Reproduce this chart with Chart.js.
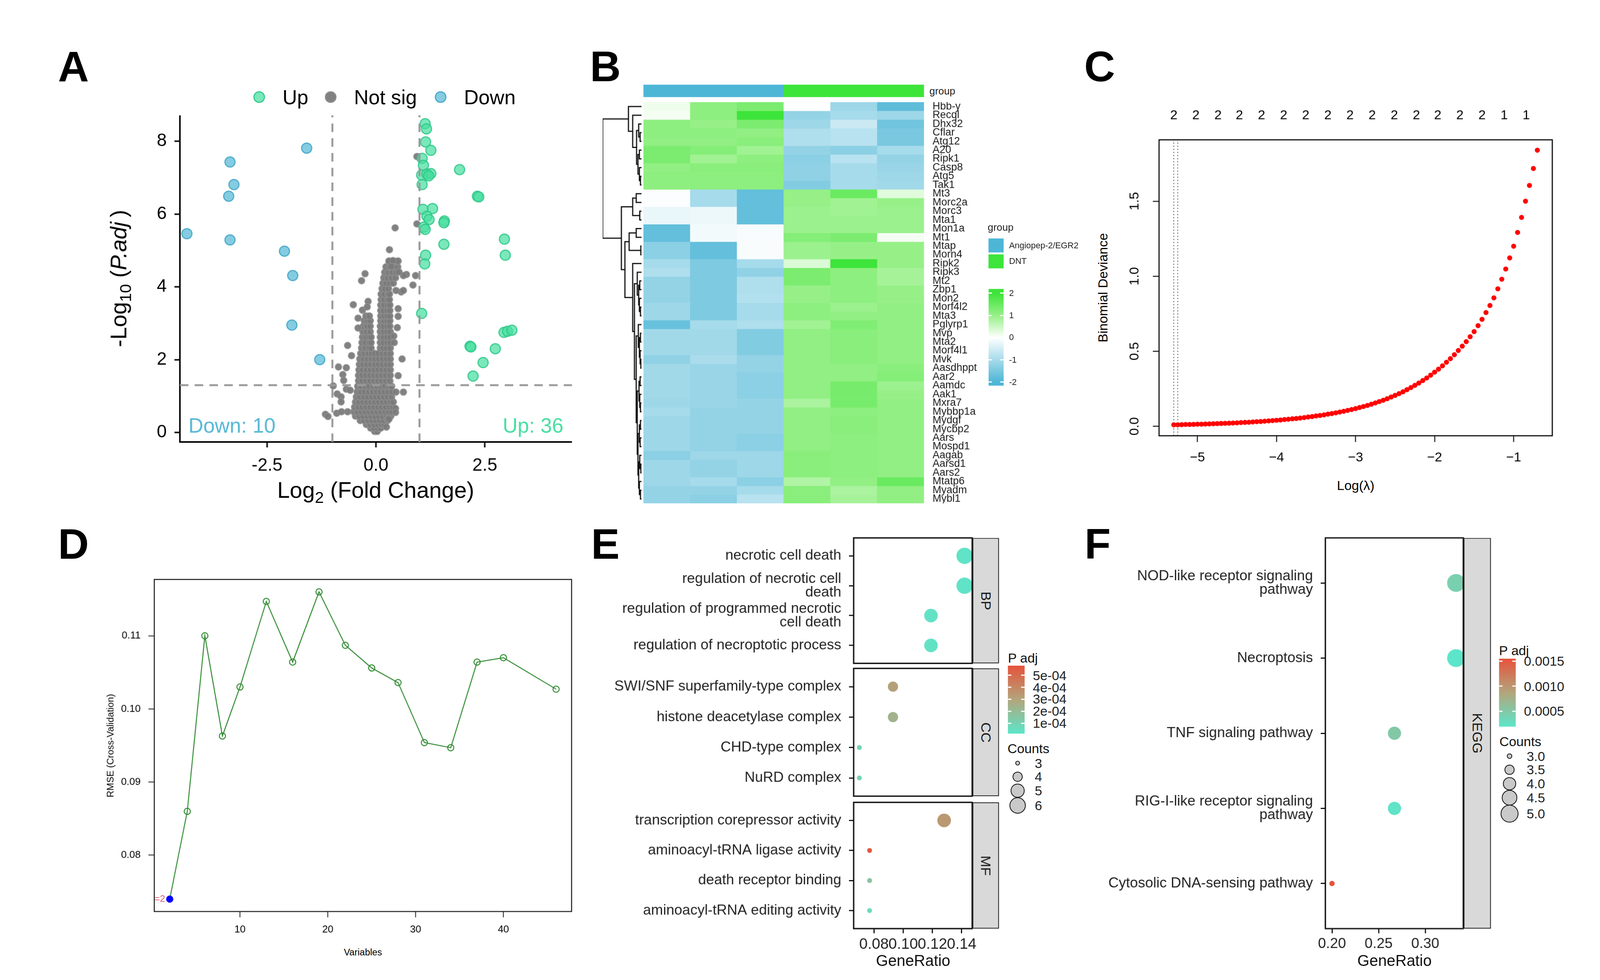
<!DOCTYPE html>
<html>
<head>
<meta charset="utf-8">
<script src="https://cdn.jsdelivr.net/npm/chart.js@4.4.1/dist/chart.umd.min.js"></script>
<style>
html, body { margin: 0; padding: 0; background: #fff; overflow: hidden; }
#fig { position: relative; width: 4099px; height: 2510px; background: #fff; overflow: hidden;
       transform: scale(0.9947); transform-origin: 0 0;
       font-family: "Liberation Sans", Arial, sans-serif; color: #000; }
.box { position: absolute; }
.t { position: absolute; white-space: nowrap; line-height: 1; }
</style>
</head>
<body>
<div id="fig"></div>
<script>
// ---------- data ----------
// A: volcano
const upPts = [[1.13,8.48],[1.16,8.34],[1.14,7.98],[1.26,7.75],[1.06,7.53],[1.09,7.34],[1.05,7.07],[1.17,7.10],[1.26,7.11],[1.21,7.05],[1.06,6.81],[1.92,7.22],[2.33,6.49],[2.36,6.47],[1.08,6.13],[1.30,6.15],[1.17,5.94],[1.22,5.85],[1.10,5.64],[1.13,5.58],[1.57,5.81],[1.56,5.76],[1.56,5.17],[1.14,4.87],[1.12,4.63],[2.95,5.31],[2.97,4.87],[1.05,3.27],[2.94,2.75],[3.02,2.78],[3.12,2.81],[2.16,2.37],[2.18,2.35],[2.74,2.30],[2.46,1.92],[2.23,1.55]];
const downPts = [[-4.34,5.46],[-3.35,7.43],[-3.26,6.81],[-3.38,6.49],[-3.35,5.29],[-1.59,7.81],[-2.10,4.98],[-1.91,4.31],[-1.93,2.95],[-1.29,2.00]];
// dense "not sig" body, read row by row: [y, x positions]
const nsRows = [
  [0.03, [-0.03, 0.03]],
  [0.12, [-0.12, -0.04, 0.04, 0.11]],
  [0.22, [-0.22, -0.13, -0.04, 0.05, 0.13, 0.19]],
  [0.33, [-0.36, -0.27, -0.18, -0.09, 0.0, 0.09, 0.18, 0.27]],
  [0.45, [-0.47, -0.38, -0.29, -0.2, -0.11, -0.02, 0.07, 0.16, 0.25, 0.34]],
  [0.57, [-0.51, -0.42, -0.33, -0.24, -0.15, -0.06, 0.03, 0.12, 0.21, 0.3, 0.37]],
  [0.70, [-0.49, -0.4, -0.31, -0.22, -0.13, -0.04, 0.05, 0.14, 0.23, 0.32, 0.39]],
  [0.84, [-0.47, -0.38, -0.29, -0.2, -0.11, -0.02, 0.07, 0.16, 0.25, 0.34, 0.4]],
  [0.98, [-0.45, -0.36, -0.27, -0.18, -0.09, 0.0, 0.09, 0.18, 0.27, 0.36]],
  [1.12, [-0.43, -0.34, -0.25, -0.16, -0.07, 0.02, 0.11, 0.2, 0.29, 0.37]],
  [1.27, [-0.42, -0.33, -0.24, -0.15, -0.06, 0.03, 0.12, 0.21, 0.3, 0.36]],
  [1.42, [-0.4, -0.31, -0.22, -0.13, -0.04, 0.05, 0.14, 0.23, 0.32]],
  [1.57, [-0.4, -0.31, -0.22, -0.13, -0.04, 0.05, 0.14, 0.23, 0.33]],
  [1.72, [-0.39, -0.3, -0.21, -0.12, -0.03, 0.06, 0.15, 0.24, 0.33]],
  [1.87, [-0.38, -0.29, -0.2, -0.11, -0.02, 0.07, 0.16, 0.25, 0.33]],
  [2.02, [-0.37, -0.28, -0.19, -0.1, -0.02, 0.07, 0.16, 0.25, 0.33]],
  [2.17, [-0.35, -0.26, -0.17, -0.09, -0.02, 0.06, 0.15, 0.24, 0.33]],
  [2.32, [-0.33, -0.24, -0.16, -0.11, 0.10, 0.17, 0.25, 0.33]],
  [2.47, [-0.32, -0.23, -0.15, -0.11, 0.10, 0.18, 0.26, 0.33]],
  [2.62, [-0.31, -0.22, -0.15, -0.11, 0.10, 0.18, 0.26, 0.33]],
  [2.77, [-0.3, -0.21, -0.13, 0.10, 0.18, 0.26, 0.33]],
  [2.92, [-0.29, -0.2, -0.13, 0.10, 0.18, 0.26, 0.32]],
  [3.07, [-0.27, -0.19, -0.13, 0.11, 0.19, 0.26, 0.32]],
  [3.20, [-0.23, -0.15, 0.11, 0.19, 0.26, 0.32]],
  [3.35, [0.11, 0.18, 0.26, 0.32]],
  [3.50, [0.11, 0.19, 0.27, 0.32]],
  [3.65, [0.12, 0.19, 0.27, 0.31]],
  [3.80, [0.12, 0.2, 0.28, 0.31]],
  [3.95, [0.14, 0.21, 0.29]],
  [4.10, [0.16, 0.24, 0.32, 0.4]],
  [4.25, [0.18, 0.27, 0.36, 0.45]],
  [4.40, [0.2, 0.29, 0.38, 0.47]],
  [4.55, [0.23, 0.32, 0.41, 0.5]],
  [4.70, [0.3, 0.38, 0.46]]];
const nsOutliers = [[0.94,7.58],[0.94,5.73],[0.44,5.62],[0.31,5.02],[-0.25,4.36],[-0.33,4.17],[-0.52,3.51],[-0.31,3.36],[-0.18,3.6],[-0.2,3.45],
  [-0.41,3.14],[-0.41,2.87],[-0.65,2.39],[-0.56,2.11],[-0.86,1.8],[-0.68,1.78],[-0.76,1.59],[-0.74,1.43],[-0.98,1.28],[-0.89,1.06],
  [-0.8,0.98],[-0.8,0.84],[-0.68,1.19],[-0.59,1.16],[-1.16,0.5],[-1.1,0.44],[-0.9,0.53],[-0.79,0.57],[-0.65,0.57],[0.6,2.02],
  [0.51,1.56],[0.63,1.11],[0.46,1.11],[0.45,0.66],[0.45,0.55],[0.49,2.88],[0.51,3.19],[0.51,3.4],[0.42,2.47],[0.41,2.65],
  [0.58,3.86],[0.63,3.9],[0.46,3.9],[0.85,4.05],[0.91,4.31],[0.7,4.34],[0.63,4.31],[0.53,4.41],[0.51,4.71],[0.3,4.71],
  [0.39,4.72],[0.35,4.56],[0.27,0.37],[0.24,0.15],[0.3,0.37]];
const nsPts = nsRows.flatMap(([y, xs]) => xs.map(x => [x, y])).concat(nsOutliers);
const fcCut = 1, padjCut = 0.05;
const volXRange = [-4.5, 4.5], volYRange = [-0.26, 8.71];
const volXTicks = [-2.5, 0, 2.5], volYTicks = [0, 2, 4, 6, 8];

// B: heatmap
const genes = ['Hbb-y','Recql','Dhx32','Cflar','Atg12','A20','Ripk1','Casp8','Atg5','Tak1','Mt3','Morc2a','Morc3','Mta1','Mon1a','Mt1','Mtap','Morn4','Ripk2','Ripk3','Mt2','Zbp1','Mon2','Morf4l2','Mta3','Pglyrp1','Mvp','Mta2','Morf4l1','Mvk','Aasdhppt','Aar2','Aamdc','Aak1','Mxra7','Mybbp1a','Mydgf','Mycbp2','Aars','Mospd1','Aagab','Aarsd1','Aars2','Mtatp6','Myadm','Mybl1'];
const sampleGroup = ['Angiopep-2/EGR2','Angiopep-2/EGR2','Angiopep-2/EGR2','DNT','DNT','DNT'];
const heatZ = [
  [0.15,1.1,1.3,0.0,-1.1,-1.8],[0.1,1.1,2.0,-1.2,-1.0,-1.1],[1.1,1.0,1.3,-1.1,-0.6,-1.6],[1.1,1.1,1.05,-0.9,-0.8,-1.5],
  [1.05,1.05,1.15,-0.9,-0.8,-1.5],[1.3,1.2,0.9,-1.2,-1.3,-1.0],[1.3,0.9,1.1,-1.3,-0.8,-1.2],[1.05,1.15,1.15,-1.25,-1.0,-1.15],
  [1.1,1.1,1.1,-1.25,-1.0,-1.1],[1.1,1.1,1.1,-1.4,-1.0,-1.05],[-0.05,-1.0,-1.75,1.0,1.5,0.3],[-0.05,-1.0,-1.75,1.0,0.9,1.0],
  [-0.25,-0.2,-1.75,0.95,0.9,0.95],[-0.25,-0.2,-1.75,0.95,0.95,0.95],[-1.75,-0.15,-0.1,0.95,0.95,0.95],[-1.75,-0.15,-0.08,1.2,1.3,0.1],
  [-1.3,-1.75,-0.08,0.95,1.0,1.0],[-1.3,-1.75,-0.08,0.95,1.0,1.0],[-1.0,-1.45,-1.0,0.35,2.0,1.0],[-0.9,-1.45,-1.25,1.3,1.1,0.85],
  [-1.2,-1.45,-0.9,1.3,1.1,0.85],[-1.2,-1.45,-0.9,1.0,1.1,1.0],[-1.2,-1.45,-0.85,1.0,1.1,1.0],[-1.1,-1.45,-1.0,1.1,0.95,1.05],
  [-1.1,-1.45,-1.0,1.1,1.05,1.05],[-1.7,-1.0,-0.9,0.9,1.25,1.05],[-1.05,-1.05,-1.4,1.05,1.15,1.05],[-1.05,-1.05,-1.4,1.05,1.15,1.05],
  [-1.05,-1.05,-1.4,1.05,1.15,1.05],[-1.25,-0.95,-1.2,1.05,1.15,1.05],[-1.05,-1.15,-1.2,1.05,1.05,1.15],[-1.05,-1.15,-1.3,1.05,1.05,1.2],
  [-1.05,-1.15,-1.3,1.05,1.35,0.95],[-1.05,-1.15,-1.3,1.05,1.35,1.0],[-1.1,-1.15,-1.2,0.8,1.35,1.05],[-1.0,-1.2,-1.2,1.05,1.1,1.05],
  [-1.1,-1.2,-1.2,1.05,1.15,1.05],[-1.1,-1.2,-1.2,1.05,1.15,1.05],[-1.1,-1.2,-1.3,1.05,1.1,1.05],[-1.1,-1.2,-1.3,1.05,1.1,1.05],
  [-1.3,-1.1,-1.1,1.15,1.1,1.05],[-1.1,-1.2,-1.1,1.15,1.1,1.05],[-1.1,-1.2,-1.1,1.15,1.1,1.05],[-1.1,-1.0,-1.3,0.75,1.05,1.5],
  [-1.2,-1.2,-1.0,1.15,0.8,1.05],[-1.2,-1.3,-0.8,1.15,0.85,1.05]];
// row dendrogram: [height, left, right], leaves are row numbers
const rowTree = [110,
  [37, 1, [25, 2, [14, [8, 3, [4, 4, 5]], [10, [6, 6, 7], [6, 8, [3, 9, 10]]]]]],
  [57, [25, [15, 11, 12], [5, 13, 14]],
       [47, [35, [15, 15, 16], [2, 17, 18]],
            [25, 19, [20, [12, 20, [8, [5, 21, 22], [6, 23, [3, 24, 25]]]],
                          [15, [9, 26, [6, [3, 27, 28], [4, 29, [2, 30, 31]]]],
                               [12, [7, [4, 32, 33], [5, 34, [3, 35, 36]]],
                                    [10, [6, [3, 37, 38], [4, 39, 40]], [8, [5, 41, [2, 42, 43]], [6, 44, [3, 45, 46]]]]]]]]]]];
const heatLegendTicks = [2, 1, 0, -1, -2];

// C: lasso cv curve
const logLambda = [-5.30,-5.25,-5.20,-5.15,-5.10,-5.05,-5.00,-4.95,-4.90,-4.85,-4.80,-4.75,-4.70,-4.65,-4.60,-4.55,-4.50,-4.45,-4.40,-4.35,-4.30,-4.25,-4.20,-4.15,-4.10,-4.05,-4.00,-3.95,-3.90,-3.85,-3.80,-3.75,-3.70,-3.65,-3.60,-3.55,-3.50,-3.45,-3.40,-3.35,-3.30,-3.25,-3.20,-3.15,-3.10,-3.05,-3.00,-2.95,-2.90,-2.85,-2.80,-2.75,-2.70,-2.65,-2.60,-2.55,-2.50,-2.45,-2.40,-2.35,-2.30,-2.25,-2.20,-2.15,-2.10,-2.05,-2.00,-1.95,-1.90,-1.85,-1.80,-1.75,-1.70,-1.65,-1.60,-1.55,-1.50,-1.45,-1.40,-1.35,-1.30,-1.25,-1.20,-1.15,-1.10,-1.05,-1.00,-0.95,-0.90,-0.85,-0.80,-0.75,-0.70];
const deviance = [0.010,0.010,0.011,0.012,0.012,0.013,0.014,0.014,0.015,0.016,0.017,0.018,0.019,0.020,0.021,0.022,0.023,0.025,0.026,0.027,0.029,0.031,0.032,0.034,0.036,0.038,0.040,0.042,0.045,0.047,0.050,0.052,0.055,0.058,0.062,0.065,0.069,0.072,0.076,0.081,0.085,0.090,0.095,0.100,0.106,0.112,0.118,0.125,0.132,0.139,0.147,0.156,0.165,0.174,0.184,0.195,0.206,0.218,0.230,0.244,0.258,0.273,0.288,0.305,0.322,0.341,0.361,0.381,0.403,0.427,0.451,0.477,0.505,0.534,0.564,0.597,0.631,0.671,0.713,0.758,0.805,0.856,0.916,0.980,1.048,1.122,1.200,1.292,1.392,1.500,1.605,1.718,1.840];
const lambdaLines = [-5.30, -5.25];
const dfPos = [-5.30,-5.02,-4.74,-4.47,-4.19,-3.91,-3.63,-3.35,-3.07,-2.79,-2.51,-2.23,-1.96,-1.68,-1.40,-1.12,-0.84];
const dfCount = [2,2,2,2,2,2,2,2,2,2,2,2,2,2,2,1,1];
const cXRange = [-5.486, -0.511], cYRange = [-0.063, 1.909];
const cXTicks = [-5, -4, -3, -2, -1], cYTicks = [0, 0.5, 1.0, 1.5];

// D: rfe
const rfeVars = [2,4,6,8,10,13,16,19,22,25,28,31,34,37,40,46];
const rfeRmse = [0.0740,0.0860,0.1100,0.0963,0.1030,0.1147,0.1064,0.1160,0.1087,0.1056,0.1036,0.0954,0.0947,0.1064,0.1070,0.1027];
const dXRange = [0.24, 47.76], dYRange = [0.0723, 0.1177];
const dXTicks = [10, 20, 30, 40], dYTicks = [0.08, 0.09, 0.10, 0.11];

// E: GO enrichment
const bpTerms = ['necrotic cell death','regulation of necrotic cell\ndeath','regulation of programmed necrotic\ncell death','regulation of necroptotic process'];
const bpRatio = [0.142, 0.142, 0.119, 0.119];
const bpCount = [6, 6, 5, 5];
const bpPadj = [2.6e-5, 2.6e-5, 3.2e-5, 3.2e-5];
const ccTerms = ['SWI/SNF superfamily-type complex','histone deacetylase complex','CHD-type complex','NuRD complex'];
const ccRatio = [0.093, 0.093, 0.070, 0.070];
const ccCount = [4, 4, 3, 3];
const ccPadj = [3.1e-4, 2.4e-4, 9e-5, 9e-5];
const mfTerms = ['transcription corepressor activity','aminoacyl-tRNA ligase activity','death receptor binding','aminoacyl-tRNA editing activity'];
const mfRatio = [0.128, 0.077, 0.077, 0.077];
const mfCount = [5, 3, 3, 3];
const mfPadj = [3.4e-4, 5.6e-4, 1.6e-4, 6e-5];
const eRatioRange = [0.0661, 0.1472], eRatioTicks = [0.08, 0.10, 0.12, 0.14];
const ePadjRange = [1.3e-5, 5.8e-4], ePadjTicks = [5e-4, 4e-4, 3e-4, 2e-4, 1e-4];
const eCountTicks = [3, 4, 5, 6];

// F: KEGG enrichment
const keggTerms = ['NOD-like receptor signaling\npathway','Necroptosis','TNF signaling pathway','RIG-I-like receptor signaling\npathway','Cytosolic DNA-sensing pathway'];
const keggRatio = [0.333, 0.333, 0.267, 0.267, 0.200];
const keggCount = [5, 5, 4, 4, 3];
const keggPadj = [4.2e-4, 2.0e-4, 5.0e-4, 2.2e-4, 1.55e-3];
const fRatioRange = [0.1929, 0.3408], fRatioTicks = [0.20, 0.25, 0.30];
const fPadjRange = [1.9e-4, 1.55e-3], fPadjTicks = [0.0015, 0.0010, 0.0005];
const fCountTicks = [3.0, 3.5, 4.0, 4.5, 5.0];

// ---------- helpers ----------
const FONT = '"Liberation Sans", Arial, sans-serif';
Chart.defaults.font.family = FONT;
Chart.defaults.color = '#000';
Chart.defaults.animation = false;
Chart.defaults.responsive = true;
Chart.defaults.maintainAspectRatio = false;
Chart.defaults.events = [];
Chart.defaults.layout.autoPadding = false;
Chart.defaults.plugins.legend.display = false;
Chart.defaults.plugins.tooltip.enabled = false;

const fig = document.getElementById('fig');

function panel(left, top, width, height) {
  const d = document.createElement('div');
  d.className = 'box';
  d.style.cssText = `left:${left}px;top:${top}px;width:${width}px;height:${height}px;`;
  const c = document.createElement('canvas');
  d.appendChild(c);
  fig.appendChild(d);
  return c;
}

function text(html, x, y, o = {}) {
  const d = document.createElement('div');
  d.className = 't';
  d.innerHTML = html;
  const ax = o.align === 'left' ? '0' : o.align === 'right' ? '-100%' : '-50%';
  d.style.left = x + 'px';
  d.style.top = y + 'px';
  d.style.fontSize = (o.size || 36) + 'px';
  if (o.bold) d.style.fontWeight = 'bold';
  if (o.color) d.style.color = o.color;
  d.style.transform = `translate(${ax},-50%)` + (o.rot ? ` rotate(${o.rot}deg)` : '');
  fig.appendChild(d);
  return d;
}

function rect(x, y, w, h, css) {
  const d = document.createElement('div');
  d.style.cssText = `position:absolute;left:${x}px;top:${y}px;width:${w}px;height:${h}px;box-sizing:border-box;` + css;
  fig.appendChild(d);
  return d;
}

// fixed axis size so that plot areas land where the reference has them
function fit(size) {
  return s => {
    if (s.isHorizontal()) s.height = size; else s.width = size;
    s.paddingLeft = s.paddingRight = s.paddingTop = s.paddingBottom = 0;
  };
}
const at = vals => s => { s.ticks = vals.map(v => ({ value: v })); };

const frame = w => ({
  id: 'frame',
  afterDatasetsDraw(chart) {
    const { ctx, chartArea: a } = chart;
    ctx.save();
    ctx.strokeStyle = '#111';
    ctx.lineWidth = w;
    ctx.strokeRect(a.left, a.top, a.right - a.left, a.bottom - a.top);
    ctx.restore();
  }
});

function mix(a, b, k) { return a.map((v, i) => Math.round(v + (b[i] - v) * k)); }

const HEAT_STOPS = [[-2, [77, 182, 214]], [0, [255, 255, 255]], [1, [150, 240, 135]], [2, [61, 228, 58]]];
function heatColor(v) {
  v = Math.max(-2, Math.min(2, v));
  for (let i = 1; i < HEAT_STOPS.length; i++) {
    const [v1, c1] = HEAT_STOPS[i], [v0, c0] = HEAT_STOPS[i - 1];
    if (v <= v1) return 'rgb(' + mix(c0, c1, (v - v0) / (v1 - v0)).join(',') + ')';
  }
}

const padjStops = [[92, 230, 202], [178, 165, 124], [230, 83, 59]];
function padjColor(p, range) {
  let t = (p - range[0]) / (range[1] - range[0]);
  t = Math.max(0, Math.min(1, t));
  const seg = t < 0.5 ? 0 : 1;
  const k = t < 0.5 ? t * 2 : (t - 0.5) * 2;
  return 'rgb(' + mix(padjStops[seg], padjStops[seg + 1], k).join(',') + ')';
}
const sizeE = c => 21 * Math.sqrt((c - 2.7) / 3.3);
const sizeF = c => 23 * Math.sqrt((c - 2.8) / 2.2);

const tickGrid = (len, w) => ({ drawOnChartArea: false, drawTicks: true, tickLength: len, tickWidth: w, color: '#111' });

// ---------- panel letters ----------
[['A', 189, 171], ['B', 1558, 171], ['C', 2830, 171], ['D', 189, 1401], ['E', 1558, 1401], ['F', 2825, 1401]]
  .forEach(([l, x, y]) => text(l, x, y, { size: 110, bold: true }));

// ---------- A: volcano ----------
const UP_COL = '#46DFA0', DOWN_COL = '#56B8D5';
const NS_FILL = 'rgba(122,122,122,0.95)', NS_LINE = 'rgba(145,145,145,0.7)';
const hLine = -Math.log10(padjCut);
const dash = pts => ({ data: pts, showLine: true, pointRadius: 0, borderColor: '#9a9a9a', borderWidth: 5, borderDash: [22, 16] });
new Chart(panel(300, 297, 1172, 951), {
  type: 'scatter',
  data: {
    datasets: [
      dash([{ x: -fcCut, y: volYRange[0] }, { x: -fcCut, y: volYRange[1] }]),
      dash([{ x: fcCut, y: volYRange[0] }, { x: fcCut, y: volYRange[1] }]),
      dash([{ x: volXRange[0], y: hLine }, { x: volXRange[1], y: hLine }]),
      { data: upPts.map(([x, y]) => ({ x, y })), pointRadius: 13, backgroundColor: 'rgba(70,223,160,0.72)', borderColor: 'rgba(48,200,138,0.9)', borderWidth: 3 },
      { data: downPts.map(([x, y]) => ({ x, y })), pointRadius: 13, backgroundColor: 'rgba(86,184,213,0.72)', borderColor: 'rgba(66,166,200,0.9)', borderWidth: 3 },
      { data: nsPts.map(([x, y]) => ({ x, y })), pointRadius: 8.5, backgroundColor: NS_FILL, borderColor: NS_LINE, borderWidth: 2.5 }
    ]
  },
  options: {
    scales: {
      x: { type: 'linear', min: volXRange[0], max: volXRange[1], afterBuildTicks: at(volXTicks),
           ticks: { font: { size: 46 }, padding: 20, callback: v => v.toFixed(1) },
           grid: tickGrid(14, 4), border: { color: '#000', width: 4 }, afterFit: fit(110) },
      y: { type: 'linear', min: volYRange[0], max: volYRange[1], afterBuildTicks: at(volYTicks),
           ticks: { font: { size: 46 }, padding: 20, callback: v => String(v) },
           grid: tickGrid(14, 4), border: { color: '#000', width: 4 }, afterFit: fit(163) }
    }
  },
  plugins: [{
    id: 'counts',
    afterDraw(chart) {
      const { ctx, chartArea: a } = chart;
      ctx.save();
      ctx.font = '53px ' + FONT;
      ctx.textBaseline = 'alphabetic';
      ctx.fillStyle = DOWN_COL; ctx.textAlign = 'left';
      ctx.fillText('Down: ' + downPts.length, a.left + 22, a.bottom - 24);
      ctx.fillStyle = UP_COL; ctx.textAlign = 'right';
      ctx.fillText('Up: ' + upPts.length, a.right - 22, a.bottom - 24);
      ctx.restore();
    }
  }]
});
// legend
[['Up', 667, 'rgba(70,223,160,0.72)', 'rgba(48,200,138,0.9)'],
 ['Not sig', 851, NS_FILL, NS_LINE],
 ['Down', 1134, 'rgba(86,184,213,0.72)', 'rgba(66,166,200,0.9)']].forEach(([lab, x, fill, line]) => {
  rect(x - 15, 235, 30, 30, `border-radius:50%;background:${fill};border:3px solid ${line};`);
  text(lab, x + 60, 250, { size: 52, align: 'left' });
});
text('-Log<sub style="font-size:0.72em">10</sub> (<i>P.adj</i>&thinsp;)', 310, 717, { size: 58, rot: -90 });
text('Log<sub style="font-size:0.72em">2</sub> (Fold Change)', 967, 1267, { size: 58 });

// ---------- B: heatmap ----------
const nRows = genes.length;
const groupColor = g => g === 'DNT' ? heatColor(2) : heatColor(-2);
new Chart(panel(1656, 263, 902, 1033), {
  type: 'bar',
  data: {
    labels: sampleGroup.map((g, i) => g + ' ' + (i + 1)),
    datasets: heatZ.map(row => ({ data: row.map(() => 1), backgroundColor: row.map(heatColor),
      borderWidth: 0, barPercentage: 1, categoryPercentage: 1 }))
  },
  options: {
    scales: {
      x: { display: false, stacked: true },
      y: { stacked: true, position: 'right', min: 0, max: nRows, reverse: true,
           afterBuildTicks: at(genes.map((g, i) => i + 0.5)),
           ticks: { autoSkip: false, font: { size: 27 }, color: '#1a1a1a', padding: 14, callback: (v, i) => genes[i] },
           grid: { display: false }, border: { display: false }, afterFit: fit(180) }
    }
  }
});
// group annotation strip
new Chart(panel(1656, 218, 722, 32), {
  type: 'bar',
  data: { labels: sampleGroup.map((g, i) => i), datasets: [{ data: sampleGroup.map(() => 1),
    backgroundColor: sampleGroup.map(groupColor), borderWidth: 0, barPercentage: 1, categoryPercentage: 1 }] },
  options: { scales: { x: { display: false }, y: { display: false, min: 0, max: 1 } } }
});
text('group', 2392, 234, { size: 26, align: 'left', color: '#222' });
// dendrogram
const treeSegs = [];
(function walk(node) {
  if (typeof node === 'number') return { y: node - 0.5, h: 0 };
  const [h, a, b] = node;
  const l = walk(a), r = walk(b);
  treeSegs.push([{ x: l.h, y: l.y }, { x: h, y: l.y }, { x: h, y: r.y }, { x: r.h, y: r.y }]);
  return { y: (l.y + r.y) / 2, h };
})(rowTree);
new Chart(panel(1549, 263, 102, 1033), {
  type: 'scatter',
  data: { datasets: treeSegs.map(s => ({ data: s, showLine: true, pointRadius: 0, borderColor: '#111', borderWidth: 3 })) },
  options: {
    layout: { padding: { left: 2 } },
    scales: { x: { display: false, min: 0, max: 110, reverse: true }, y: { display: false, min: 0, max: nRows, reverse: true } }
  }
});
// heatmap legends
text('group', 2542, 585, { size: 26, align: 'left', color: '#222' });
rect(2544, 614, 39, 36, `background:${groupColor('Angiopep-2/EGR2')};`);
rect(2544, 655, 39, 36, `background:${groupColor('DNT')};`);
text('Angiopep-2/EGR2', 2597, 632, { size: 22, align: 'left', color: '#222' });
text('DNT', 2597, 673, { size: 22, align: 'left', color: '#222' });
const hbTop = 744, hbH = 249, hbMax = 2.19, hbMin = -2.16;
const hbY = v => hbTop + (hbMax - v) / (hbMax - hbMin) * hbH;
const hbPct = v => ((hbY(v) - hbTop) / hbH * 100).toFixed(2) + '%';
rect(2544, hbTop, 39, hbH, `background:linear-gradient(to bottom, ${heatColor(2)} 0%, ${heatColor(2)} ${hbPct(2)}, ${heatColor(1)} ${hbPct(1)}, #fff ${hbPct(0)}, ${heatColor(-2)} ${hbPct(-2)}, ${heatColor(-2)} 100%);`);
heatLegendTicks.forEach(v => {
  rect(2544, hbY(v) - 1.5, 9, 3, 'background:#fff;');
  rect(2574, hbY(v) - 1.5, 9, 3, 'background:#fff;');
  text(String(v), 2597, hbY(v), { size: 22, align: 'left', color: '#222' });
});

// ---------- C: lasso ----------
new Chart(panel(2883, 280, 1118, 942), {
  type: 'scatter',
  data: {
    datasets: [
      ...lambdaLines.map(v => ({ data: [{ x: v, y: cYRange[0] }, { x: v, y: cYRange[1] }], showLine: true,
        pointRadius: 0, borderColor: '#777', borderWidth: 2.5, borderDash: [3, 5] })),
      { data: logLambda.map((x, i) => ({ x, y: deviance[i] })), pointRadius: 6.5, backgroundColor: '#ff0000', borderWidth: 0 }
    ]
  },
  options: {
    layout: { padding: { right: 6 } },
    scales: {
      x: { type: 'linear', min: cXRange[0], max: cXRange[1], afterBuildTicks: at(cXTicks),
           ticks: { font: { size: 34 }, padding: 20, callback: v => (v < 0 ? '\u2212' : '') + Math.abs(v) },
           grid: tickGrid(16, 2.5), border: { display: false }, afterFit: fit(100) },
      xTop: { type: 'linear', axis: 'x', position: 'top', min: cXRange[0], max: cXRange[1], afterBuildTicks: at(dfPos),
           ticks: { font: { size: 34 }, padding: 42, autoSkip: false, maxRotation: 0, callback: (v, i) => String(dfCount[i]) },
           grid: { display: false, drawTicks: false }, border: { display: false }, afterFit: fit(80) },
      y: { type: 'linear', min: cYRange[0], max: cYRange[1], afterBuildTicks: at(cYTicks),
           ticks: { display: false }, grid: tickGrid(16, 2.5), border: { display: false }, afterFit: fit(100) }
    }
  },
  plugins: [frame(3), {
    id: 'rotY',
    afterDraw(chart) {
      const s = chart.scales.y, ctx = chart.ctx;
      ctx.save();
      ctx.font = '34px ' + FONT;
      ctx.fillStyle = '#000';
      ctx.textAlign = 'center';
      ctx.textBaseline = 'middle';
      cYTicks.forEach(v => {
        ctx.save();
        ctx.translate(chart.chartArea.left - 62, s.getPixelForValue(v));
        ctx.rotate(-Math.PI / 2);
        ctx.fillText(v.toFixed(1), 0, 0);
        ctx.restore();
      });
      ctx.restore();
    }
  }]
});
text('Binomial Deviance', 2838, 741, { size: 34, rot: -90 });
text('Log(\u03bb)', 3489, 1250, { size: 34 });

// ---------- D: rfe ----------
const D_GREEN = '#2f8a30';
new Chart(panel(277, 1486, 1200, 941), {
  type: 'scatter',
  data: {
    datasets: [{ data: rfeVars.map((x, i) => ({ x, y: rfeRmse[i] })), showLine: true,
      borderColor: D_GREEN, borderWidth: 2.5, pointRadius: 8, pointBorderWidth: 2.5,
      pointBorderColor: c => c.dataIndex === 0 ? '#0000ff' : D_GREEN,
      pointBackgroundColor: c => c.dataIndex === 0 ? '#0000ff' : 'rgba(0,0,0,0)' }]
  },
  options: {
    layout: { padding: { top: 6, right: 6 } },
    scales: {
      x: { type: 'linear', min: dXRange[0], max: dXRange[1], afterBuildTicks: at(dXTicks),
           ticks: { font: { size: 26 }, padding: 16, callback: v => String(v) },
           grid: tickGrid(15, 2), border: { display: false }, afterFit: fit(80) },
      y: { type: 'linear', min: dYRange[0], max: dYRange[1], afterBuildTicks: at(dYTicks),
           ticks: { font: { size: 26 }, padding: 20, callback: v => v.toFixed(2) },
           grid: tickGrid(15, 2), border: { display: false }, afterFit: fit(120) }
    }
  },
  plugins: [frame(2.5), {
    id: 'best',
    afterDraw(chart) {
      const pt = chart.getDatasetMeta(0).data[0], ctx = chart.ctx, a = chart.chartArea;
      ctx.save();
      ctx.beginPath(); ctx.rect(a.left, a.top, a.right - a.left, a.bottom - a.top); ctx.clip();
      ctx.font = '24px ' + FONT; ctx.fillStyle = '#DF536B'; ctx.textAlign = 'right'; ctx.textBaseline = 'middle';
      ctx.fillText('n=' + rfeVars[0], pt.x - 12, pt.y);
      ctx.restore();
    }
  }]
});
text('RMSE (Cross-Validation)', 284, 1920, { size: 24, rot: -90 });
text('Variables', 934, 2452, { size: 24 });

// ---------- E / F: enrichment dot plots ----------
function dotChart(left, yw, top, h, right, terms, ratio, count, padj, o) {
  const pad = 3, xh = o.withX ? 72 : 0, padR = o.withX ? 45 : pad;
  new Chart(panel(left, top - pad, right - left + padR, h + pad + (o.withX ? xh : pad)), {
    type: 'scatter',
    data: {
      datasets: [{ data: ratio.map((x, i) => ({ x, y: i + 1 })), clip: 0, borderWidth: 0,
        pointRadius: c => o.size(count[c.dataIndex]),
        backgroundColor: c => padjColor(padj[c.dataIndex], o.padjRange) }]
    },
    options: {
      layout: { padding: { top: pad, right: padR, bottom: o.withX ? 0 : pad } },
      scales: {
        x: { type: 'linear', display: o.withX, min: o.xRange[0], max: o.xRange[1], afterBuildTicks: at(o.xTicks),
             ticks: { font: { size: o.tickSize || 36 }, color: '#222', padding: 6, callback: v => v.toFixed(2) },
             grid: tickGrid(12, 3), border: { display: false }, afterFit: fit(xh) },
        y: { type: 'linear', min: 0.4, max: terms.length + 0.6, reverse: true,
             afterBuildTicks: at(terms.map((t, i) => i + 1)),
             ticks: { font: { size: 37, lineHeight: 0.95 }, color: '#222', padding: 20, autoSkip: false,
                      callback: (v, i) => terms[i].split('\n') },
             grid: tickGrid(12, 3), border: { display: false }, afterFit: fit(yw) }
      }
    },
    plugins: [frame(3.5)]
  });
}
function strip(label, x, y, w, h) {
  rect(x, y, w, h, 'background:#d9d9d9;border:2.5px solid #222;');
  text(label, x + w / 2, y + h / 2, { size: 36, rot: 90, color: '#1a1a1a' });
}
const eOpts = { size: sizeE, padjRange: ePadjRange, xRange: eRatioRange, xTicks: eRatioTicks, tickSize: 39 };
dotChart(1560, 637, 1385, 323, 2502, bpTerms, bpRatio, bpCount, bpPadj, { ...eOpts, withX: false });
dotChart(1560, 637, 1721, 329, 2502, ccTerms, ccRatio, ccCount, ccPadj, { ...eOpts, withX: false });
dotChart(1560, 637, 2066, 325, 2502, mfTerms, mfRatio, mfCount, mfPadj, { ...eOpts, withX: true });
strip('BP', 2503, 1385, 68, 323);
strip('CC', 2503, 1721, 68, 329);
strip('MF', 2503, 2066, 68, 325);
text('GeneRatio', 2350, 2473, { size: 40, color: '#111' });

function padjLegend(x, barTop, barH, range, ticks, fmt, titleY) {
  text('P adj', x, titleY, { size: 34, align: 'left', color: '#111' });
  rect(x, barTop, 43, barH, `background:linear-gradient(to top, rgb(${padjStops[0]}), rgb(${padjStops[1]}), rgb(${padjStops[2]}));`);
  ticks.forEach(v => {
    const y = barTop + (range[1] - v) / (range[1] - range[0]) * barH;
    rect(x, y - 1.5, 9, 3, 'background:#fff;');
    rect(x + 34, y - 1.5, 9, 3, 'background:#fff;');
    text(fmt(v), x + 64, y, { size: 34, align: 'left', color: '#222' });
  });
}
function countLegend(x, titleY, ys, counts, size, fmt) {
  text('Counts', x - 26, titleY, { size: 34, align: 'left', color: '#111' });
  counts.forEach((c, i) => {
    const r = size(c);
    rect(x - r, ys[i] - r, 2 * r, 2 * r, 'border-radius:50%;background:#c9c9c9;border:2.5px solid #111;');
    text(fmt(c), x + 44, ys[i], { size: 34, align: 'left', color: '#222' });
  });
}
padjLegend(2594, 1714, 175, ePadjRange, ePadjTicks, v => v.toExponential(0).replace('e-', 'e-0'), 1694);
countLegend(2619, 1927, [1965, 2000, 2036, 2074], eCountTicks, sizeE, c => String(c));

dotChart(2800, 611, 1385, 1006, 3766, keggTerms, keggRatio, keggCount, keggPadj,
  { size: sizeF, padjRange: fPadjRange, xRange: fRatioRange, xTicks: fRatioTicks, withX: true, tickSize: 37 });
strip('KEGG', 3767, 1385, 70, 1006);
text('GeneRatio', 3589, 2473, { size: 40, color: '#111' });
padjLegend(3858, 1696, 175, fPadjRange, fPadjTicks, v => v.toFixed(4), 1675);
countLegend(3885, 1909, [1947, 1982, 2018, 2054, 2095], fCountTicks, sizeF, c => c.toFixed(1));
</script>
</body>
</html>
